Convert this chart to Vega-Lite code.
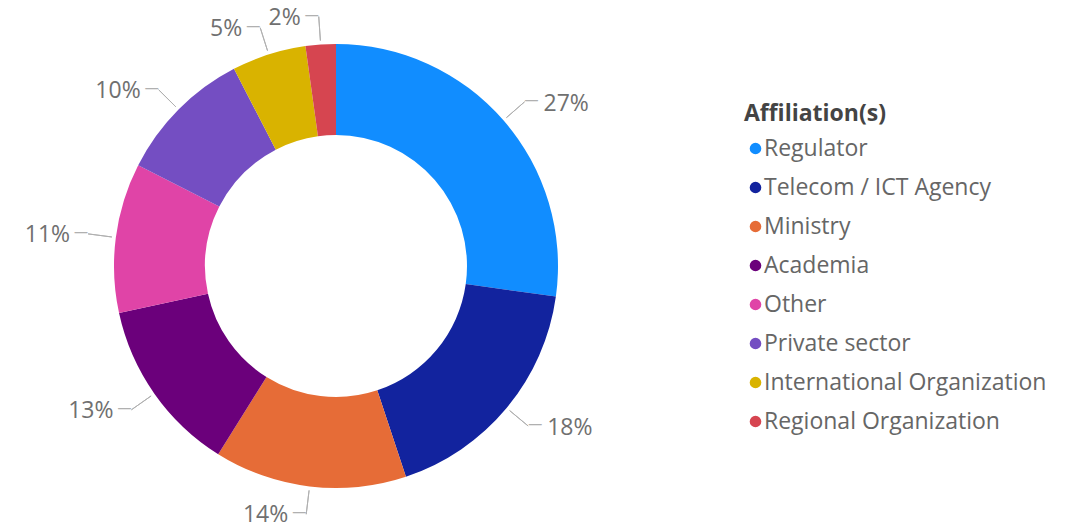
{
  "$schema": "https://vega.github.io/schema/vega-lite/v6.json",
  "width": 672,
  "height": 526,
  "padding": {"left": 0, "top": 3, "right": 407, "bottom": 0},
  "autosize": "none",
  "background": "white",
  "config": {"view": {"stroke": null}, "font": "Open Sans"},
  "data": {
    "values": [
      {"Affiliation": "Regulator", "value": 27.2},
      {"Affiliation": "Telecom / ICT Agency", "value": 17.7},
      {"Affiliation": "Ministry", "value": 14.0},
      {"Affiliation": "Academia", "value": 12.7},
      {"Affiliation": "Other", "value": 10.9},
      {"Affiliation": "Private sector", "value": 9.9},
      {"Affiliation": "International Organization", "value": 5.4},
      {"Affiliation": "Regional Organization", "value": 2.2}
    ]
  },
  "transform": [
    {"window": [{"op": "row_number", "as": "idx"}]},
    {"stack": "value", "groupby": [], "sort": [{"field": "idx", "order": "ascending"}], "as": ["v0", "v1"]},
    {"calculate": "(datum.v0 + datum.v1) / 2", "as": "mid"},
    {"calculate": "datum.value / 100", "as": "pct"}
  ],
  "layer": [
    {
      "mark": {"type": "arc", "innerRadius": 131, "outerRadius": 222},
      "encoding": {
        "theta": {"field": "v0", "type": "quantitative", "scale": {"domain": [0, 100]}},
        "theta2": {"field": "v1"},
        "color": {
          "field": "Affiliation",
          "type": "nominal",
          "sort": null,
          "scale": {
            "domain": ["Regulator", "Telecom / ICT Agency", "Ministry", "Academia", "Other", "Private sector", "International Organization", "Regional Organization"],
            "range": ["#118DFF", "#12239E", "#E66C37", "#6B007B", "#E044A7", "#744EC2", "#D9B300", "#D64550"]
          },
          "legend": {
            "title": "Affiliation(s)",
            "orient": "none",
            "legendX": 744,
            "legendY": 100,
            "titleFontSize": 23,
            "titleFontWeight": "bold",
            "titleColor": "#444444",
            "titleFont": "Open Sans",
            "titlePadding": 11,
            "labelFontSize": 23,
            "labelColor": "#666666",
            "labelFont": "Open Sans",
            "labelOffset": -3,
            "symbolType": "circle",
            "symbolSize": 135,
            "symbolStrokeWidth": 0,
            "rowPadding": 15,
            "labelLimit": 400
          }
        }
      }
    },
    {
      "mark": {"type": "arc", "innerRadius": 226, "outerRadius": 250, "fill": null, "stroke": "#b0b0b0", "strokeWidth": 1},
      "encoding": {
        "theta": {"field": "mid", "type": "quantitative"},
        "theta2": {"field": "mid"}
      }
    },
    {
      "transform": [{"filter": "datum.mid < 50"}],
      "layer": [
        {
          "mark": {"type": "text", "radius": 250, "align": "left", "baseline": "middle", "dx": 0, "dy": -1, "fontSize": 14, "color": "#b0b0b0", "text": "—"},
          "encoding": {"theta": {"field": "mid", "type": "quantitative"}}
        },
        {
          "mark": {"type": "text", "radius": 250, "align": "left", "baseline": "middle", "dx": 19, "dy": 2, "fontSize": 23, "color": "#707070"},
          "encoding": {
            "theta": {"field": "mid", "type": "quantitative"},
            "text": {"field": "pct", "type": "quantitative", "format": ".0%"}
          }
        }
      ]
    },
    {
      "transform": [{"filter": "datum.mid >= 50"}],
      "layer": [
        {
          "mark": {"type": "text", "radius": 250, "align": "right", "baseline": "middle", "dx": 0, "dy": -1, "fontSize": 14, "color": "#b0b0b0", "text": "—"},
          "encoding": {"theta": {"field": "mid", "type": "quantitative"}}
        },
        {
          "mark": {"type": "text", "radius": 250, "align": "right", "baseline": "middle", "dx": -18, "dy": 1, "fontSize": 23, "color": "#707070"},
          "encoding": {
            "theta": {"field": "mid", "type": "quantitative"},
            "text": {"field": "pct", "type": "quantitative", "format": ".0%"}
          }
        }
      ]
    }
  ]
}
